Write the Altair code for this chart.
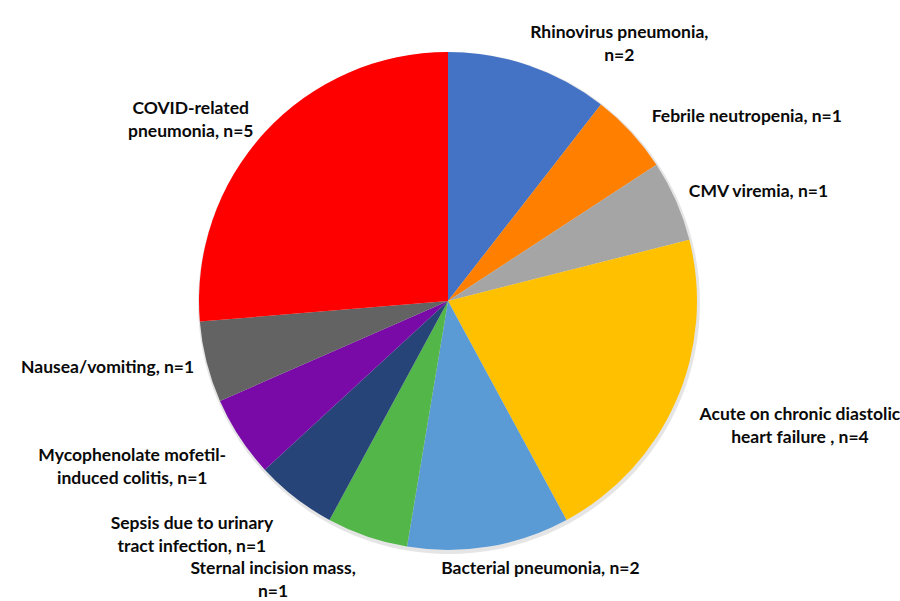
import altair as alt
import pandas as pd

# ---- data ----
categories = [
    "Rhinovirus pneumonia,\nn=2",
    "Febrile neutropenia, n=1",
    "CMV viremia, n=1",
    "Acute on chronic diastolic\nheart failure , n=4",
    "Bacterial pneumonia, n=2",
    "Sternal incision mass,\nn=1",
    "Sepsis due to urinary\ntract infection, n=1",
    "Mycophenolate mofetil-\ninduced colitis, n=1",
    "Nausea/vomiting, n=1",
    "COVID-related\npneumonia, n=5",
]
counts = [2, 1, 1, 4, 2, 1, 1, 1, 1, 5]
colors = ["#4472C4", "#FF7F00", "#A5A5A5", "#FFC000", "#5B9BD5",
          "#52B748", "#264478", "#7A0AA8", "#636363", "#FF0000"]

df = pd.DataFrame({
    "label": categories,
    "n": counts,
    "order": list(range(len(categories))),
})
df["chars"] = [max(len(s) for s in c.split("\n")) for c in categories]
df["lines"] = [len(c.split("\n")) for c in categories]

CX, CY, R = 448, 301, 249

base = alt.Chart(df)

shadow = alt.Chart(pd.DataFrame({"k": [0]})).mark_arc(
    radius=R + 2, theta=0, theta2=6.2832, color="#000000", opacity=0.10
).encode(x=alt.value(CX + 1), y=alt.value(CY + 2))

pie = base.mark_arc(radius=R).encode(
    theta=alt.Theta("n:Q", stack=True),
    order=alt.Order("order:Q"),
    color=alt.Color("label:N", scale=alt.Scale(domain=categories, range=colors), legend=None),
    x=alt.value(CX),
    y=alt.value(CY),
)

labels = base.transform_joinaggregate(
    total="sum(n)"
).transform_window(
    cum="sum(n)", sort=[alt.SortField("order")], frame=[None, 0]
).transform_calculate(
    mid="(datum.cum - datum.n / 2) / datum.total * 2 * PI",
    w="datum.chars * 8.3",
    h="datum.lines * 23",
).transform_calculate(
    ax=f"{CX} + {R} * sin(datum.mid)",
    ay=f"{CY} - {R} * cos(datum.mid)",
    s="clamp(2.7 * sin(datum.mid), -1, 1)",
).transform_calculate(
    lx="datum.ax + datum.s * (datum.w / 2 + 16)",
    ly="datum.ay - cos(datum.mid) * (datum.h / 2 + 11)",
).mark_text(
    font="Lato", fontWeight="bold", fontSize=17.5, lineBreak="\n", lineHeight=23,
    align="center", baseline="middle", color="#0a0a0a"
).encode(
    x=alt.X("lx:Q", scale=None),
    y=alt.Y("ly:Q", scale=None),
    text="label:N",
)

chart = alt.layer(shadow, pie, labels).properties(
    width=900, height=601, padding=0, autosize="none"
).configure_view(stroke=None)

chart.save("out.html", embed_options={"renderer": "svg", "actions": False})
